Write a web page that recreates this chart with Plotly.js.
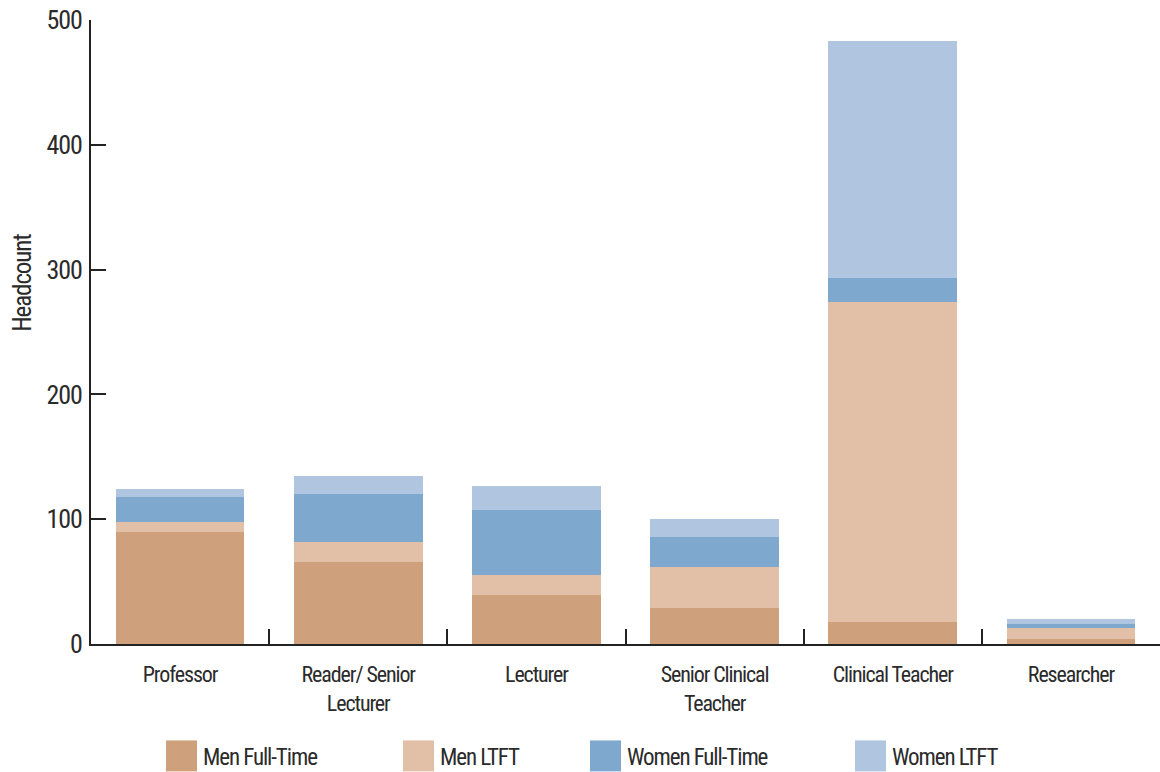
<!DOCTYPE html>
<html>
<head>
<meta charset="utf-8">
<script src="https://cdn.plot.ly/plotly-3.0.1.min.js"></script>
<style>
  html, body { margin: 0; padding: 0; background: #ffffff; }
  #chart { width: 1160px; height: 772px; }
  /* narrow grotesque look for every label (also used when Plotly measures text) */
  svg text { font-stretch: condensed !important; letter-spacing: -1.1px; }
</style>
</head>
<body>
<div id="chart"></div>
<script>
// Staff headcount by role, split by gender and working pattern
const roles = ['Professor', 'Reader/ Senior<br>Lecturer', 'Lecturer', 'Senior Clinical<br>Teacher', 'Clinical Teacher', 'Researcher'];

const menFullTime   = [90, 66, 39, 29, 18, 4];
const menLTFT       = [8, 16, 16, 33, 256, 9];
const womenFullTime = [20, 38, 52, 24, 19, 3];
const womenLTFT     = [6, 15, 20, 14, 190, 4];

const seriesNames = ['Men Full-Time', 'Men LTFT', 'Women Full-Time', 'Women LTFT'];
const seriesColors = ['#cfa07c', '#e1c0a7', '#7fa8ce', '#afc5e0'];
const seriesValues = [menFullTime, menLTFT, womenFullTime, womenLTFT];

const yTicks = [0, 100, 200, 300, 400, 500];
const yTitle = 'Headcount';

const FONT = 'Roboto, sans-serif';
const INK = '#2b2b2b';

const traces = seriesNames.map((name, i) => ({
  type: 'bar',
  name: name,
  x: roles,
  y: seriesValues[i],
  marker: { color: seriesColors[i], line: { width: 0 } },
  showlegend: false,
  hoverinfo: 'x+y+name'
}));

// Plot frame in pixels, and helpers to place paper-referenced items
const plotLeft = 91, plotRight = 1160, plotTop = 20, plotBottom = 644.5;
const px2paperX = p => (p - plotLeft) / (plotRight - plotLeft);
const px2paperY = p => (plotBottom - p) / (plotBottom - plotTop);

// Legend: large square swatches with labels along the bottom
const legendSwatchX = [166, 403, 590, 855];
const shapes = [];
const annotations = [];
seriesNames.forEach((name, i) => {
  const x0 = legendSwatchX[i];
  shapes.push({
    type: 'rect', xref: 'paper', yref: 'paper',
    x0: px2paperX(x0), x1: px2paperX(x0 + 31),
    y0: px2paperY(772), y1: px2paperY(741),
    fillcolor: seriesColors[i], line: { width: 0 }
  });
  annotations.push({
    xref: 'paper', yref: 'paper',
    x: px2paperX(x0 + 35), y: px2paperY(758),
    xanchor: 'left', yanchor: 'middle',
    text: name, showarrow: false,
    font: { family: FONT, size: 23, color: INK }
  });
});

// Vertical axis title, set a little above the middle of the axis
annotations.push({
  xref: 'paper', yref: 'paper',
  x: px2paperX(23), y: px2paperY(283),
  xanchor: 'center', yanchor: 'middle',
  textangle: -90,
  text: yTitle, showarrow: false,
  font: { family: FONT, size: 25, color: INK }
});

const layout = {
  width: 1160,
  height: 772,
  margin: { l: plotLeft, r: 1160 - plotRight, t: plotTop, b: 772 - plotBottom },
  paper_bgcolor: '#ffffff',
  plot_bgcolor: '#ffffff',
  barmode: 'stack',
  bargap: 0.277,
  font: { family: FONT, color: INK },
  xaxis: {
    type: 'category',
    range: [-0.5, 5.5],
    tickson: 'boundaries',
    ticks: 'inside',
    ticklen: 15,
    tickwidth: 2,
    tickcolor: '#222',
    showline: true,
    linecolor: '#222',
    linewidth: 2,
    showgrid: false,
    zeroline: false,
    ticklabelstandoff: 10,
    tickfont: { family: FONT, size: 22, color: INK },
    fixedrange: true
  },
  yaxis: {
    range: [0, 500],
    tickmode: 'array',
    tickvals: yTicks,
    ticktext: yTicks.map(String),
    ticks: 'inside',
    ticklen: 15,
    tickwidth: 2,
    tickcolor: '#222',
    showline: true,
    linecolor: '#222',
    linewidth: 2,
    showgrid: false,
    zeroline: false,
    ticklabelstandoff: 2,
    tickfont: { family: FONT, size: 26, color: INK },
    automargin: false,
    fixedrange: true
  },
  shapes: shapes,
  annotations: annotations,
  showlegend: false
};

Plotly.newPlot('chart', traces, layout, { displayModeBar: false, staticPlot: true });
</script>
</body>
</html>
